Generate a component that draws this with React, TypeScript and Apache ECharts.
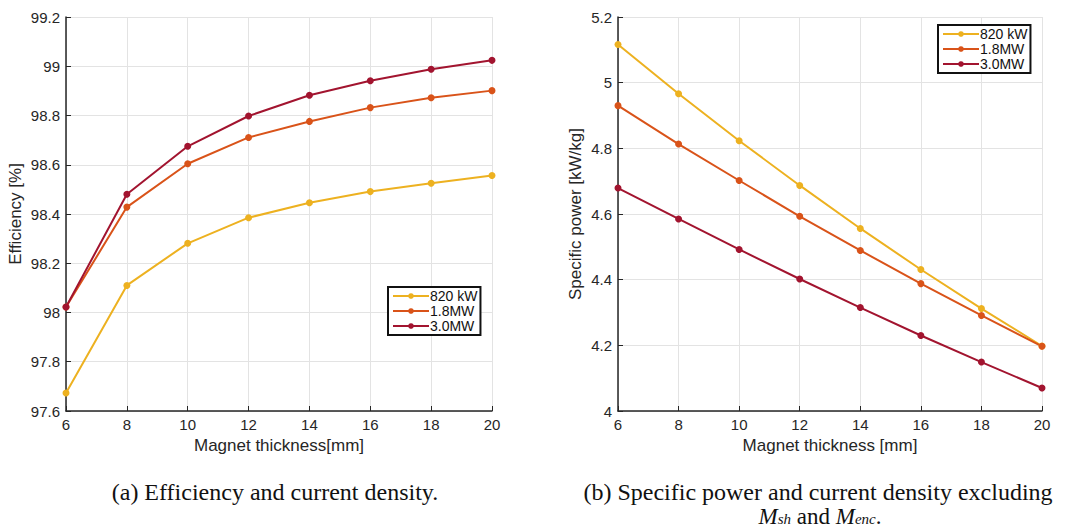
import React, { useEffect, useRef } from "react";
import * as echarts from "echarts";

const thickness = [6, 8, 10, 12, 14, 16, 18, 20];
const seriesNames = ["820 kW", "1.8MW", "3.0MW"];
const colors = ["#EDB120", "#D95319", "#A2142F"];

const efficiency820 = [97.673, 98.11, 98.281, 98.385, 98.446, 98.491, 98.525, 98.556];
const efficiency18 = [98.022, 98.428, 98.604, 98.711, 98.776, 98.832, 98.872, 98.901];
const efficiency30 = [98.022, 98.48, 98.675, 98.798, 98.882, 98.941, 98.988, 99.024];

const power820 = [5.116, 4.966, 4.823, 4.687, 4.556, 4.431, 4.312, 4.198];
const power18 = [4.93, 4.813, 4.702, 4.593, 4.489, 4.388, 4.291, 4.197];
const power30 = [4.679, 4.585, 4.492, 4.402, 4.315, 4.23, 4.149, 4.07];

const captionA = "(a) Efficiency and current density.";
const captionB = "(b) Specific power and current density excluding";

const sans = "Liberation Sans";
const serif = "Liberation Serif";
const textColor = "#262626";
const captionSize = 24;

function xAxisCfg(gridIndex: number, name: string) {
  return {
    type: "value",
    gridIndex,
    min: 6,
    max: 20,
    interval: 2,
    name,
    nameLocation: "middle",
    nameGap: 23,
    nameTextStyle: { fontFamily: sans, fontSize: 17, color: textColor },
    axisLine: { show: true, onZero: false, lineStyle: { color: textColor, width: 1.5 } },
    axisTick: { show: true, inside: true, length: 5, lineStyle: { color: textColor } },
    axisLabel: { fontFamily: sans, fontSize: 15, color: textColor, margin: 6 },
    splitLine: { show: true, lineStyle: { color: "#e3e3e3", width: 1 } },
  };
}

function yAxisCfg(gridIndex: number, name: string, min: number, max: number, gap: number) {
  return {
    type: "value",
    gridIndex,
    min,
    max,
    interval: 0.2,
    name,
    nameLocation: "middle",
    nameGap: gap,
    nameTextStyle: { fontFamily: sans, fontSize: 17, color: textColor },
    axisLine: { show: true, onZero: false, lineStyle: { color: textColor, width: 1.5 } },
    axisTick: { show: true, inside: true, length: 5, lineStyle: { color: textColor } },
    axisLabel: {
      fontFamily: sans,
      fontSize: 15,
      color: textColor,
      margin: 6,
      formatter: (v: number) => String(parseFloat(v.toFixed(1))),
    },
    splitLine: { show: true, lineStyle: { color: "#e3e3e3", width: 1 } },
  };
}

function lineSeries(name: string, data: number[], idx: number, color: string) {
  return {
    type: "line",
    name,
    xAxisIndex: idx,
    yAxisIndex: idx,
    data: thickness.map((x, i) => [x, data[i]]),
    symbol: "circle",
    symbolSize: 7,
    lineStyle: { color, width: 2 },
    itemStyle: { color },
    z: 3,
  };
}

function legendCfg(pos: any) {
  return {
    ...pos,
    orient: "vertical",
    data: seriesNames,
    itemWidth: 36,
    itemHeight: 7,
    itemGap: 1,
    padding: [2, 3, 2, 4],
    backgroundColor: "#fff",
    borderColor: "#111",
    borderWidth: 2,
    borderRadius: 0,
    selectedMode: false,
    textStyle: { fontFamily: sans, fontSize: 14, color: "#111", padding: [0, 0, 0, -4] },
  };
}

export default function App() {
  const ref = useRef<HTMLDivElement>(null);
  useEffect(() => {
    if (!ref.current) return;
    const chart = echarts.init(ref.current, null, { renderer: "svg" });
    chart.setOption({
      animation: false,
      backgroundColor: "#fff",
      grid: [
        { left: 66, top: 17, width: 426, height: 394 },
        { left: 618, top: 17, width: 424, height: 394 },
      ],
      xAxis: [xAxisCfg(0, "Magnet thickness[mm]"), xAxisCfg(1, "Magnet thickness [mm]")],
      yAxis: [
        yAxisCfg(0, "Efficiency [%]", 97.6, 99.2, 42),
        yAxisCfg(1, "Specific power [kW/kg]", 4, 5.2, 34),
      ],
      legend: [
        legendCfg({ left: 388, top: 287 }),
        legendCfg({ left: 938, top: 25 }),
      ],
      series: [
        lineSeries(seriesNames[0], efficiency820, 0, colors[0]),
        lineSeries(seriesNames[1], efficiency18, 0, colors[1]),
        lineSeries(seriesNames[2], efficiency30, 0, colors[2]),
        lineSeries(seriesNames[0], power820, 1, colors[0]),
        lineSeries(seriesNames[1], power18, 1, colors[1]),
        lineSeries(seriesNames[2], power30, 1, colors[2]),
      ],
      graphic: [
        {
          type: "text",
          x: 275,
          y: 492,
          style: {
            text: captionA,
            fontFamily: serif,
            fontSize: captionSize,
            lineHeight: 21,
            fill: "#111",
            align: "center",
            verticalAlign: "middle",
          },
        },
        {
          type: "text",
          x: 818,
          y: 492,
          style: {
            text: captionB,
            fontFamily: serif,
            fontSize: captionSize,
            lineHeight: 21,
            fill: "#111",
            align: "center",
            verticalAlign: "middle",
          },
        },
        {
          type: "text",
          x: 820,
          y: 516,
          style: {
            text: "{i|M}{s|sh}{n| and }{i|M}{s|enc}{n|.}",
            fontFamily: serif,
            fontSize: 23,
            fill: "#111",
            align: "center",
            verticalAlign: "middle",
            rich: {
              i: { fontFamily: serif, fontStyle: "italic", fontSize: 23, fill: "#111", lineHeight: 20 },
              s: { fontFamily: serif, fontStyle: "italic", fontSize: 15, fill: "#111", verticalAlign: "bottom", lineHeight: 12, padding: [5, 0, 0, 0] },
              n: { fontFamily: serif, fontSize: 23, fill: "#111", lineHeight: 20 },
            },
          },
        },
      ],
    });
    return () => chart.dispose();
  }, []);
  return (
    <div
      ref={ref}
      style={{ position: "absolute", left: 0, top: 0, width: 1081, height: 529 }}
    />
  );
}
